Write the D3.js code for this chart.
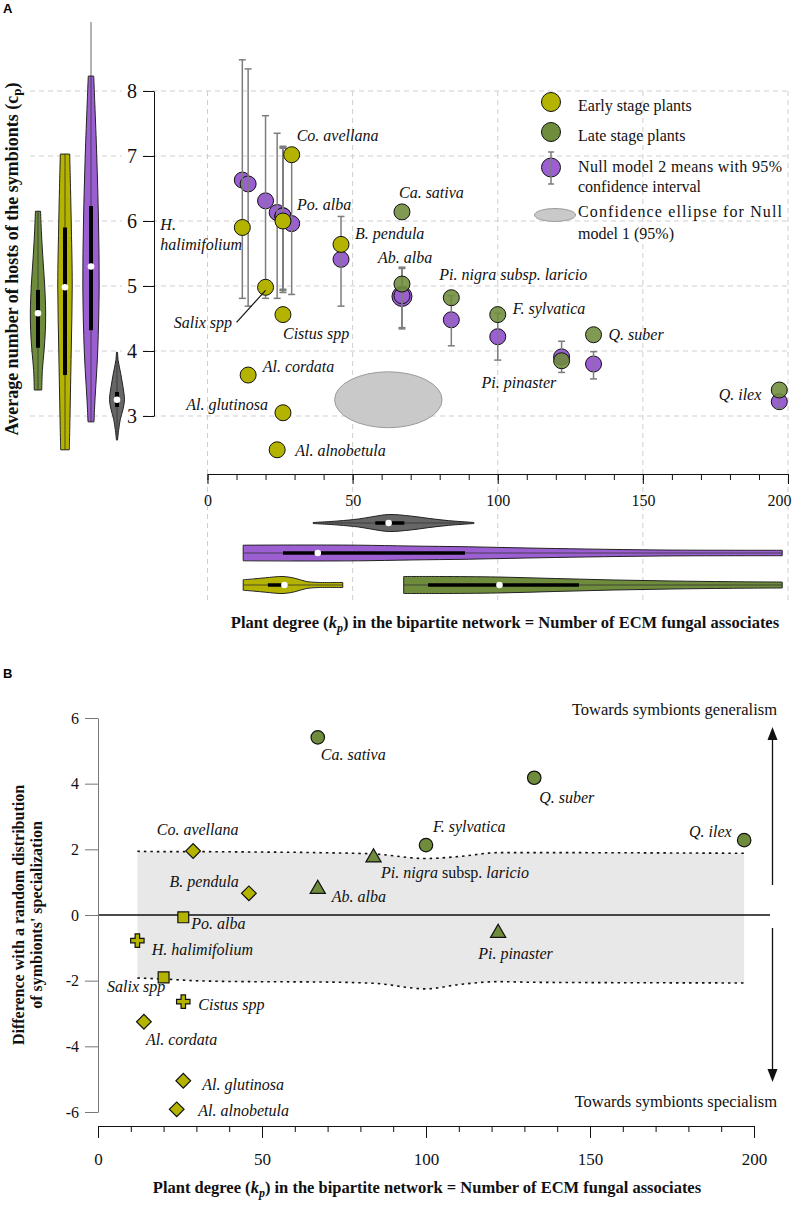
<!DOCTYPE html>
<html><head><meta charset="utf-8">
<script src="https://cdn.jsdelivr.net/npm/d3@7"></script>
<style>
body{margin:0;background:#fff}
svg{display:block}
</style>
</head><body>
<svg id="c" width="792" height="1205"></svg>
<script>
// ---------------- DATA ----------------
const plants = ["H. halimifolium","Al. cordata","Salix spp","Al. alnobetula","Po. alba","Cistus spp","Al. glutinosa","Co. avellana","B. pendula","Ab. alba","Ca. sativa","Pi. nigra subsp. laricio","F. sylvatica","Pi. pinaster","Q. suber","Q. ilex"];
const stage = ["Early","Early","Early","Early","Early","Early","Early","Early","Early","Late","Late","Late","Late","Late","Late","Late"];
const degree = [12,14,20,24,26,26,26,29,46,67,67,84,100,122,133,197];
const hostsCp = [5.9,3.63,4.98,2.48,6.0,4.56,3.05,7.02,5.64,5.03,6.14,4.82,4.56,3.85,4.25,3.4];
const null2Mean = [6.63,6.57,6.31,6.13,6.08,6.07,6.08,5.96,5.41,4.84,4.85,4.48,4.22,3.91,3.80,3.22];
const null2Low  = [4.81,4.69,4.81,4.81,4.95,4.90,4.93,4.87,4.69,4.34,4.36,4.08,3.86,3.67,3.57,3.12];
const null2High = [8.48,8.34,7.62,7.35,7.15,7.12,7.13,7.10,6.07,5.29,5.27,4.85,4.58,4.15,3.99,3.32];
const specDiff = [-0.78,-3.25,-1.9,-5.92,-0.07,-2.64,-5.05,1.95,0.66,0.76,5.41,1.72,2.13,-0.58,4.18,2.28];
const markerShape = ["cross","diamond","square","diamond","square","cross","diamond","diamond","diamond","triangle","circle","triangle","circle","triangle","circle","circle"];

// Null model 1 confidence ellipse (center, radii) in data units
const ellipseCenter = [62.3, 3.25];
const ellipseRadii = [18.5, 0.43];

// Null model band of panel B
const bandDeg   = [12,20,29,46,67,84,100,110,122,133,197];
const bandUpper = [1.94,1.93,1.93,1.92,1.90,1.86,1.72,1.78,1.90,1.90,1.88];
const bandLower = [-1.92,-1.95,-2.00,-2.03,-2.04,-2.08,-2.25,-2.12,-2.03,-2.05,-2.07];

// Violin profiles: [value, relative density]
const vioCpLate  = [[3.4,.44],[3.7,.51],[4.0,.71],[4.3,.86],[4.6,.9],[5.0,.79],[5.4,.59],[5.8,.41],[6.15,.3]];
const vioCpEarly = [[2.48,.51],[3,.59],[4,.73],[5,.85],[6,.73],[6.5,.65],[7.03,.55]];
const vioCpNull2 = [[2.91,.35],[3.2,.45],[4,.79],[5,.96],[6,.88],[7,.68],[7.8,.45],[8.23,.32]];
const vioCpNull1 = [[2.63,.06],[2.8,.21],[2.95,.39],[3.1,.7],[3.25,.88],[3.45,.7],[3.65,.44],[3.85,.14],[3.98,.06]];
const vioKpNull1 = [[36.4,.06],[45,.24],[52,.47],[57,.75],[62.5,1],[70,.82],[76,.55],[83,.28],[91.8,.06]];
const vioKpNull2 = [[12.3,.92],[30,.94],[52,.92],[70,.82],[90,.73],[110,.59],[130,.47],[157,.35],[185,.32],[198,.32]];
const vioKpEarly = [[12.3,.62],[16,.72],[20,.85],[26,1],[30,.8],[34,.42],[38,.3],[46.6,.3]];
const vioKpLate  = [[67.6,1],[80,1],[100,.94],[120,.76],[140,.59],[160,.47],[180,.39],[198,.35]];
// box stats: [whiskerLow, q1, median, q3, whiskerHigh]
const statCpLate  = [3.4,4.05,4.58,4.94,6.15];
const statCpEarly = [2.48,3.63,4.98,5.9,7.03];
const statCpNull2 = [2.91,4.32,5.3,6.23,9.06];
const statCpNull1 = [2.63,3.14,3.25,3.37,3.98];
const statKpNull1 = [36.4,57.8,62.4,67.8,91.8];
const statKpNull2 = [12.3,26,38,88.7,198];
const statKpEarly = [12.3,20.8,26.5,26.5,46.6];
const statKpLate  = [67.6,76,100.6,128,198];

// ticks
const yTicksA = [3,4,5,6,7,8];
const xTicksMajor = [0,50,100,150,200];
const xTicksMinor = [0,10,20,30,40,50,60,70,80,90,100,110,120,130,140,150,160,170,180,190,200];
const yTicksB = [-6,-4,-2,0,2,4,6];

// ---------------- STYLE / LAYOUT ----------------
const colYellow = "#b4b400", colGreen = "#6e8c3c", colPurple = "#9b5fd2", colGrey = "#666666";
const stageColor = {Early: colYellow, Late: colGreen};
const font = "Liberation Serif, Times New Roman, serif";

// label offsets (dx, dy, anchor) relative to the point
const labA = [[-82,2.5,"start"],[14.6,-3,"start"],[-33.5,41,"end"],[18,6,"start"],[14,-11,"start"],[0,24,"start"],[-15,-3,"end"],[5,-14,"start"],[14,-5,"start"],[-24,-21,"start"],[-3,-14,"start"],[-12,-18,"start"],[15,-1,"start"],[-80,27,"start"],[15,5,"start"],[-18,10,"end"]];
const labB = [[14.3,14,"start"],[2,23,"start"],[1.7,15,"end"],[21.5,7,"start"],[8,12,"start"],[15,8,"start"],[19,9,"start"],[-36.4,-16,"start"],[-10,-6.6,"end"],[14,12,"start"],[3,23,"start"],[7.5,19.5,"start"],[7,-13,"start"],[-20,25,"start"],[5,25,"start"],[-12.5,-3,"end"]];

const svg = d3.select("#c").attr("font-family",font);

// ================= PANEL A =================
const xA = d3.scaleLinear([0,200],[207.5,788]);
const yA = d3.scaleLinear([3,8],[416,91]);
const wV = d3.scaleLinear([0,1],[0,8.5]);
const gA = svg.append("g");

// grid
const grid = gA.append("g").attr("stroke","#cfcfcf").attr("stroke-dasharray","5,4").attr("stroke-width",1);
yTicksA.forEach(v=>{
  grid.append("line").attr("x1",30).attr("x2",122).attr("y1",yA(v)).attr("y2",yA(v));
  grid.append("line").attr("x1",143).attr("x2",788).attr("y1",yA(v)).attr("y2",yA(v));
});
xTicksMajor.forEach(t=>{
  grid.append("line").attr("x1",xA(t)).attr("x2",xA(t)).attr("y1",yA(8)).attr("y2",600);
});

// axes
const gyA = gA.append("g").attr("transform","translate(154,0)")
  .call(d3.axisLeft(yA).tickValues(yTicksA).tickSize(11).tickSizeOuter(0).tickPadding(6).tickFormat(d3.format("d")));
gyA.selectAll("text").attr("font-size",20).attr("font-family",font).attr("fill","#111");
gyA.selectAll("line,path").attr("stroke","#111");

const gxAminor = gA.append("g").attr("transform","translate(0,474)")
  .call(d3.axisBottom(xA).tickValues(xTicksMinor).tickSize(6).tickSizeOuter(0).tickFormat(""));
gxAminor.select(".domain").remove();
const gxA = gA.append("g").attr("transform","translate(0,474)")
  .call(d3.axisBottom(xA).tickValues(xTicksMajor).tickSize(10).tickSizeOuter(0).tickPadding(11));
gxA.selectAll("text").attr("font-size",16).attr("font-family",font).attr("fill","#111");
gxA.selectAll("text").filter(d=>d===200).attr("text-anchor","end").attr("dx",3);
gxA.selectAll("line,path").attr("stroke","#111");
gxAminor.selectAll("line").attr("stroke","#111");

// vertical violins
function vViolin(cx, prof, st, fill){
  const g = gA.append("g");
  g.append("line").attr("x1",cx).attr("x2",cx).attr("y1",yA(st[0])).attr("y2",yA(st[4])).attr("stroke","#666").attr("stroke-width",1);
  const area = d3.area().curve(d3.curveCatmullRom)
    .y(d=>yA(d[0])).x0(d=>cx-wV(d[1])).x1(d=>cx+wV(d[1]));
  g.append("path").attr("d",area(prof)).attr("fill",fill).attr("stroke","#222").attr("stroke-width",1);
  g.append("line").attr("x1",cx).attr("x2",cx).attr("y1",yA(prof[0][0])).attr("y2",yA(prof[prof.length-1][0])).attr("stroke","#333").attr("stroke-width",0.8);
  g.append("line").attr("x1",cx).attr("x2",cx).attr("y1",yA(st[1])).attr("y2",yA(st[3])).attr("stroke","#000").attr("stroke-width",4);
  g.append("circle").attr("cx",cx).attr("cy",yA(st[2])).attr("r",3.3).attr("fill","#fff");
}
vViolin(38, vioCpLate, statCpLate, colGreen);
vViolin(65, vioCpEarly, statCpEarly, colYellow);
vViolin(91, vioCpNull2, statCpNull2, colPurple);
vViolin(117, vioCpNull1, statCpNull1, colGrey);

// horizontal violins
function hViolin(cy, prof, st, fill){
  const g = gA.append("g");
  const area = d3.area().curve(d3.curveCatmullRom)
    .x(d=>xA(d[0])).y0(d=>cy-wV(d[1])).y1(d=>cy+wV(d[1]));
  g.append("path").attr("d",area(prof)).attr("fill",fill).attr("stroke","#222").attr("stroke-width",1);
  g.append("line").attr("y1",cy).attr("y2",cy).attr("x1",xA(st[0])).attr("x2",xA(st[4])).attr("stroke","#333").attr("stroke-width",0.8);
  g.append("line").attr("y1",cy).attr("y2",cy).attr("x1",xA(st[1])).attr("x2",xA(st[3])).attr("stroke","#000").attr("stroke-width",3.5);
  g.append("circle").attr("cy",cy).attr("cx",xA(st[2])).attr("r",3.3).attr("fill","#fff");
}
hViolin(523, vioKpNull1, statKpNull1, colGrey);
hViolin(553, vioKpNull2, statKpNull2, colPurple);
hViolin(585, vioKpEarly, statKpEarly, colYellow);
hViolin(585, vioKpLate, statKpLate, colGreen);

// ellipse
gA.append("ellipse").attr("cx",xA(ellipseCenter[0])).attr("cy",yA(ellipseCenter[1]))
  .attr("rx",xA(ellipseCenter[0]+ellipseRadii[0])-xA(ellipseCenter[0]))
  .attr("ry",yA(ellipseCenter[1]-ellipseRadii[1])-yA(ellipseCenter[1]))
  .attr("fill","#c9c9c9").attr("stroke","#9a9a9a").attr("stroke-width",1);

const idx = d3.range(plants.length);
// null model 2 points
gA.append("g").selectAll("circle").data(idx).join("circle")
  .attr("cx",i=>xA(degree[i])).attr("cy",i=>yA(null2Mean[i]))
  .attr("r",i=>i===9?10:8).attr("fill",colPurple).attr("stroke","#111").attr("stroke-width",1);
// error bars
const eb = gA.append("g").attr("stroke","#7d7d7d").attr("stroke-width",1.5);
idx.forEach(i=>{
  const x = xA(degree[i]);
  eb.append("line").attr("x1",x).attr("x2",x).attr("y1",yA(null2Low[i])).attr("y2",yA(null2High[i]));
  eb.append("line").attr("x1",x-3.5).attr("x2",x+3.5).attr("y1",yA(null2Low[i])).attr("y2",yA(null2Low[i]));
  eb.append("line").attr("x1",x-3.5).attr("x2",x+3.5).attr("y1",yA(null2High[i])).attr("y2",yA(null2High[i]));
});
// observed points
gA.append("g").selectAll("circle").data(idx).join("circle")
  .attr("cx",i=>xA(degree[i])).attr("cy",i=>yA(hostsCp[i]))
  .attr("r",8).attr("fill",i=>stageColor[stage[i]]).attr("fill-opacity",i=>stage[i]==="Late"?0.88:1)
  .attr("stroke","#111").attr("stroke-width",1);

// labels A
const labGA = gA.append("g").attr("font-size",16).attr("font-style","italic").attr("fill","#111").attr("font-family",font);
idx.forEach(i=>{
  const x = xA(degree[i]), y = yA(hostsCp[i]);
  const [dx,dy,an] = labA[i];
  if(i===0){
    labGA.append("text").attr("x",x+dx).attr("y",y+dy).text("H.");
    labGA.append("text").attr("x",x+dx).attr("y",y+dy+20).text("halimifolium");
  } else {
    labGA.append("text").attr("x",x+dx).attr("y",y+dy).attr("text-anchor",an).text(plants[i]);
  }
});
// Salix leader
{
  const x = xA(degree[2]), y = yA(hostsCp[2]);
  gA.append("line").attr("x1",x).attr("y1",y+3).attr("x2",x-29).attr("y2",y+35).attr("stroke","#111").attr("stroke-width",1.2);
}

// legend A
const lg = gA.append("g");
lg.append("circle").attr("cx",551).attr("cy",102).attr("r",9.5).attr("fill",colYellow).attr("stroke","#111");
lg.append("circle").attr("cx",551).attr("cy",132).attr("r",9.5).attr("fill",colGreen).attr("stroke","#111");
lg.append("circle").attr("cx",551).attr("cy",167.5).attr("r",9.5).attr("fill",colPurple).attr("stroke","#111");
lg.append("line").attr("x1",551).attr("x2",551).attr("y1",152).attr("y2",184).attr("stroke","#7d7d7d").attr("stroke-width",1.5);
lg.append("line").attr("x1",548).attr("x2",554).attr("y1",152).attr("y2",152).attr("stroke","#7d7d7d").attr("stroke-width",1.5);
lg.append("line").attr("x1",548).attr("x2",554).attr("y1",184).attr("y2",184).attr("stroke","#7d7d7d").attr("stroke-width",1.5);
lg.append("ellipse").attr("cx",555).attr("cy",215).attr("rx",20.5).attr("ry",6.5).attr("fill","#c9c9c9").attr("stroke","#9a9a9a");
const lgt = lg.append("g").attr("font-size",16).attr("fill","#111").attr("font-family",font);
lgt.append("text").attr("x",578).attr("y",110.5).text("Early stage plants");
lgt.append("text").attr("x",578).attr("y",140.5).text("Late stage plants");
lgt.append("text").attr("x",578).attr("y",171.5).attr("textLength",204).attr("lengthAdjust","spacing").text("Null model 2 means with 95%");
lgt.append("text").attr("x",578).attr("y",191.5).text("confidence interval");
lgt.append("text").attr("x",578).attr("y",216.5).attr("textLength",204).attr("lengthAdjust","spacing").text("Confidence ellipse for Null");
lgt.append("text").attr("x",578).attr("y",239).text("model 1 (95%)");

// titles A
const tA = gA.append("text").attr("transform","translate(12,259) rotate(-90)").attr("text-anchor","middle")
  .attr("dominant-baseline","central").attr("font-weight","bold").attr("font-size",18).attr("fill","#111").attr("font-family",font);
tA.append("tspan").text("Average number of hosts of the symbionts (c");
tA.append("tspan").attr("font-size",13).attr("dy",4).text("p");
tA.append("tspan").attr("dy",-4).text(")");

function xTitle(g, cx, y){
  const t = g.append("text").attr("x",cx).attr("y",y).attr("text-anchor","middle").attr("font-weight","bold").attr("font-size",16.5).attr("fill","#111").attr("font-family",font);
  t.append("tspan").text("Plant degree (");
  t.append("tspan").attr("font-style","italic").text("k");
  t.append("tspan").attr("font-style","italic").attr("font-size",12).attr("dy",4).text("p");
  t.append("tspan").attr("dy",-4).text(") in the bipartite network = Number of ECM fungal associates");
}
xTitle(gA, 505, 628);
svg.append("text").attr("x",3).attr("y",13).attr("font-family","Liberation Sans, Arial, sans-serif").attr("font-weight","bold").attr("font-size",13).text("A");

// ================= PANEL B =================
const xB = d3.scaleLinear([0,200],[98,754]);
const yB = d3.scaleLinear([-6,6],[1112,718]);
const gB = svg.append("g");
svg.append("text").attr("x",3).attr("y",678).attr("font-family","Liberation Sans, Arial, sans-serif").attr("font-weight","bold").attr("font-size",13).text("B");

const band = bandDeg.map((d,i)=>({d, u:bandUpper[i], l:bandLower[i]}));
gB.append("path").attr("d", d3.area().curve(d3.curveMonotoneX).x(p=>xB(p.d)).y0(p=>yB(p.l)).y1(p=>yB(p.u))(band))
  .attr("fill","#e8e8e8");
gB.append("line").attr("x1",98).attr("x2",770).attr("y1",yB(0)).attr("y2",yB(0)).attr("stroke","#111").attr("stroke-width",1.3);
const dotted = gB.append("g").attr("fill","none").attr("stroke","#111").attr("stroke-width",1.6).attr("stroke-dasharray","2.5,4");
dotted.append("path").attr("d", d3.line().curve(d3.curveMonotoneX).x(p=>xB(p.d)).y(p=>yB(p.u))(band));
dotted.append("path").attr("d", d3.line().curve(d3.curveMonotoneX).x(p=>xB(p.d)).y(p=>yB(p.l))(band));

// axes B
const gyB = gB.append("g").attr("transform","translate(98,0)")
  .call(d3.axisLeft(yB).tickValues(yTicksB).tickSize(13).tickSizeOuter(0).tickPadding(6).tickFormat(d3.format("d")));
gyB.selectAll("line,path").attr("stroke","#777");
gyB.selectAll("text").attr("font-size",16).attr("font-family",font).attr("fill","#111");
gyB.selectAll("text").text(d=>d<0? "-"+Math.abs(d) : d);

const gxBminor = gB.append("g").attr("transform","translate(0,1126)")
  .call(d3.axisBottom(xB).tickValues(xTicksMinor).tickSize(6).tickSizeOuter(0).tickFormat(""));
gxBminor.select(".domain").remove();
gxBminor.selectAll("line").attr("stroke","#111");
const gxB = gB.append("g").attr("transform","translate(0,1126)")
  .call(d3.axisBottom(xB).tickValues(xTicksMajor).tickSize(12).tickSizeOuter(0).tickPadding(15));
gxB.selectAll("line,path").attr("stroke","#111");
gxB.selectAll("text").attr("font-size",17).attr("font-family",font).attr("fill","#111");

// markers
const symType = {circle:d3.symbolCircle, square:d3.symbolSquare, diamond:d3.symbolSquare, triangle:d3.symbolTriangle, cross:d3.symbolCross};
const symSize = {circle:142, square:118, diamond:108, triangle:100, cross:100};
gB.append("g").selectAll("path").data(idx).join("path")
  .attr("d", i=>d3.symbol(symType[markerShape[i]], symSize[markerShape[i]])())
  .attr("transform", i=>`translate(${xB(degree[i])},${yB(specDiff[i])})${markerShape[i]==="diamond"?" rotate(45)":""}${markerShape[i]==="triangle"?" translate(0,-1)":""}`)
  .attr("fill", i=>stageColor[stage[i]]).attr("stroke","#111").attr("stroke-width",1.2);

// labels B
const labGB = gB.append("g").attr("font-size",16).attr("font-style","italic").attr("fill","#111").attr("font-family",font);
idx.forEach(i=>{
  const x = xB(degree[i]), y = yB(specDiff[i]);
  const [dx,dy,an] = labB[i];
  const t = labGB.append("text").attr("x",x+dx).attr("y",y+dy).attr("text-anchor",an);
  if(i===11){
    t.append("tspan").text("Pi. nigra ");
    t.append("tspan").attr("font-style","normal").text("subsp. ");
    t.append("tspan").text("laricio");
  } else t.text(plants[i]);
});

// arrows
const ar = gB.append("g").attr("stroke","#111").attr("fill","#111");
ar.append("line").attr("x1",772.5).attr("x2",772.5).attr("y1",885).attr("y2",737).attr("stroke-width",1.3);
ar.append("path").attr("d","M772.5,727 L767.5,740 L777.5,740 Z").attr("stroke","none");
ar.append("line").attr("x1",772.5).attr("x2",772.5).attr("y1",928).attr("y2",1072).attr("stroke-width",1.3);
ar.append("path").attr("d","M772.5,1082 L767.5,1069 L777.5,1069 Z").attr("stroke","none");
gB.append("text").attr("x",777).attr("y",715).attr("text-anchor","end").attr("font-size",16.5).attr("fill","#111").attr("font-family",font).text("Towards symbionts generalism");
gB.append("text").attr("x",777).attr("y",1107).attr("text-anchor","end").attr("font-size",16.5).attr("fill","#111").attr("font-family",font).text("Towards symbionts specialism");

// titles B
const tB = gB.append("text").attr("transform","translate(0,915) rotate(-90)").attr("text-anchor","middle")
  .attr("font-weight","bold").attr("font-size",16).attr("fill","#111").attr("font-family",font);
tB.append("tspan").attr("x",0).attr("y",24).text("Difference with a random distribution");
tB.append("tspan").attr("x",0).attr("y",42).text("of symbionts' specialization");
xTitle(gB, 427, 1193);
</script>
</body></html>
